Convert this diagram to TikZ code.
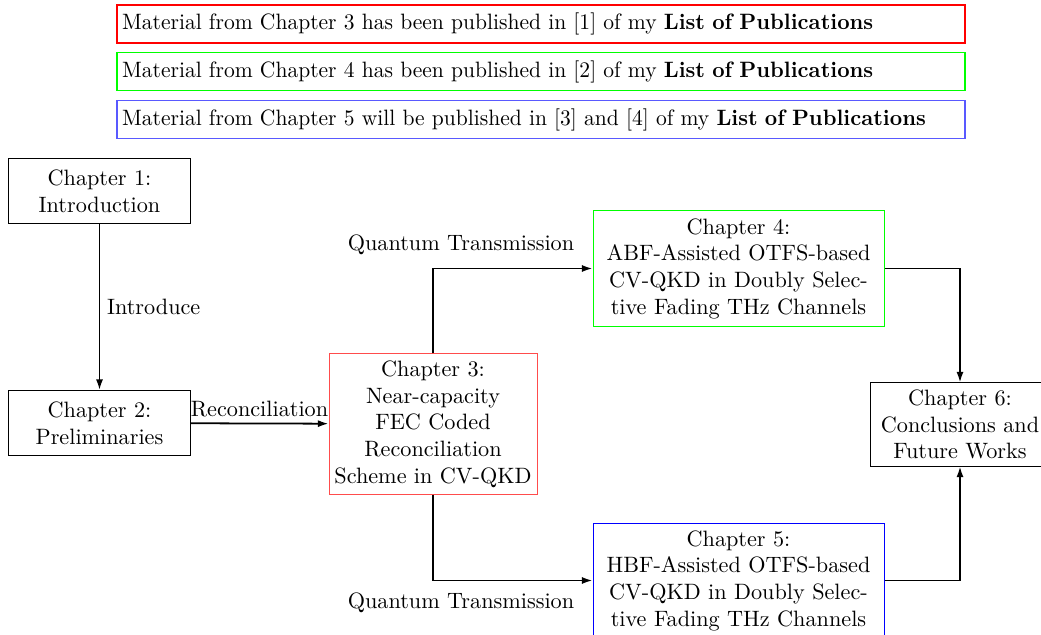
\documentclass[tikz,border=0pt]{standalone}
\usetikzlibrary{arrows.meta}
\begin{document}
\begin{tikzpicture}[x=0.45pt,y=-0.45pt,
  chapbox/.style={draw, line width=0.45pt, align=center, inner sep=0pt, font=\normalsize},
  notebox/.style={draw, line width=0.5pt, minimum width=381.6pt, minimum height=17.1pt,
    inner sep=2.3pt, text width=377pt, align=left},
  flow/.style={line width=0.8pt, -{Latex[length=4.8pt,width=3.2pt]}},
  lbl/.style={inner sep=1pt}]
\useasboundingbox (0,0) rectangle (1041,635);

% publication notes
\node[notebox, draw=red]   (n3) at (541,24)    {\scalebox{0.97}[1]{Material from Chapter 3 has been published in [1] of my \textbf{List of Publications}}};
\node[notebox, draw=green] (n4) at (541,71.5)  {\scalebox{0.97}[1]{Material from Chapter 4 has been published in [2] of my \textbf{List of Publications}}};
\node[notebox, draw=blue!65] (n5) at (541,119.5) {\scalebox{0.97}[1]{Material from Chapter 5 will be published in [3] and [4] of my \textbf{List of Publications}}};

% chapter boxes
\node[chapbox, minimum width=81.45pt, minimum height=29.25pt] (c1) at (99.5,191) {Chapter 1:\\Introduction};
\node[chapbox, minimum width=81.45pt, minimum height=29.25pt] (c2) at (99.5,423) {Chapter 2:\\Preliminaries};
\node[chapbox, draw=red!70, minimum width=93.6pt, minimum height=63pt] (c3) at (433,424)
  {Chapter 3:\\Near-capacity\\FEC Coded\\Reconciliation\\Scheme in CV-QKD};
\node[chapbox, draw=green, minimum width=130.95pt, minimum height=51.75pt] (c4) at (738.5,268.5)
  {Chapter 4:\\ABF-Assisted OTFS-based\\CV-QKD in Doubly Selec-\\tive Fading THz Channels};
\node[chapbox, draw=blue, minimum width=130.95pt, minimum height=51.75pt] (c5) at (738.5,580.5)
  {Chapter 5:\\HBF-Assisted OTFS-based\\CV-QKD in Doubly Selec-\\tive Fading THz Channels};
\node[chapbox, minimum width=81pt, minimum height=37.35pt] (c6) at (960,424.5)
  {Chapter 6:\\Conclusions and\\Future Works};

% connectors
\draw[flow] (c1) -- node[lbl, midway, right=2pt] (lintro) {Introduce} (c2);
\draw[flow] (c2) -- node[lbl, midway, above=1.5pt] (lrec) {Reconciliation} (c3);
\draw[flow] (c3.north) |- (c4.west);
\draw[flow] (c3.south) |- (c5.west);
\draw[flow] (c4.east) -| (c6.north);
\draw[flow] (c5.east) -| (c6.south);

% connector labels
\node[lbl] (lqt1) at (461,245) {Quantum Transmission};
\node[lbl] (lqt2) at (461,603) {Quantum Transmission};
\end{tikzpicture}
\end{document}
